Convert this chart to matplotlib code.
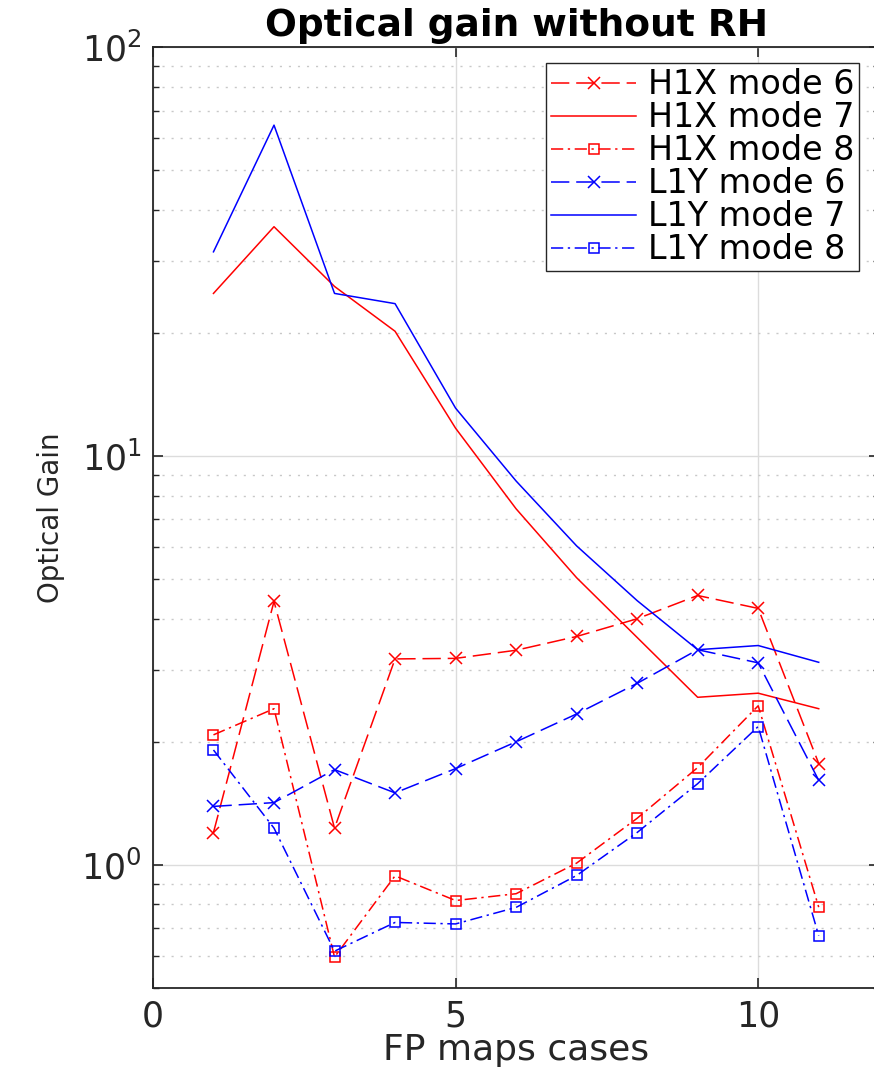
import matplotlib.pyplot as plt
from matplotlib.ticker import LogLocator, NullFormatter

plt.rcParams['font.family'] = ['DejaVu Sans']
plt.rcParams['mathtext.fontset'] = 'dejavusans'

cases: list = [1, 2, 3, 4, 5, 6, 7, 8, 9, 10, 11]

h1x_mode6: list = [1.20, 4.41, 1.23, 3.19, 3.20, 3.35, 3.62, 4.00, 4.56, 4.24, 1.77]
h1x_mode7: list = [25.0, 36.4, 26.0, 20.2, 11.7, 7.43, 5.04, 3.60, 2.57, 2.63, 2.41]
h1x_mode8: list = [2.08, 2.41, 0.595, 0.94, 0.818, 0.85, 1.01, 1.30, 1.73, 2.45, 0.788]
l1y_mode6: list = [1.39, 1.42, 1.71, 1.50, 1.72, 2.00, 2.34, 2.78, 3.36, 3.12, 1.61]
l1y_mode7: list = [31.6, 64.5, 25.0, 23.6, 13.1, 8.69, 6.03, 4.43, 3.36, 3.44, 3.13]
l1y_mode8: list = [1.91, 1.23, 0.615, 0.723, 0.717, 0.787, 0.942, 1.20, 1.58, 2.18, 0.671]

labels: list = ["H1X mode 6", "H1X mode 7", "H1X mode 8",
                "L1Y mode 6", "L1Y mode 7", "L1Y mode 8"]

dash_pat = (12, 4.5)
dashdot_pat = (8, 3, 1.5, 3)


def plotGraph() -> None:
    fig = plt.figure(figsize=(8.74, 10.75), dpi=100)
    ax = fig.add_axes([0.175, 0.081, 0.831, 0.875])

    lw = 1.1
    # H1X in red, L1Y in blue
    ax.plot(cases, h1x_mode6, color="red", lw=lw, marker="x", ms=9, mew=1.1,
            dashes=dash_pat, label=labels[0])
    ax.plot(cases, h1x_mode7, color="red", lw=lw, ls="-", label=labels[1])
    ax.plot(cases, h1x_mode8, color="red", lw=lw, marker="s", ms=7.5, mew=1.1,
            mfc="none", dashes=dashdot_pat, label=labels[2])
    ax.plot(cases, l1y_mode6, color="blue", lw=lw, marker="x", ms=9, mew=1.1,
            dashes=dash_pat, label=labels[3])
    ax.plot(cases, l1y_mode7, color="blue", lw=lw, ls="-", label=labels[4])
    ax.plot(cases, l1y_mode8, color="blue", lw=lw, marker="s", ms=7.5, mew=1.1,
            mfc="none", dashes=dashdot_pat, label=labels[5])

    ax.set_yscale("log")
    ax.set_xlim(0, 12)
    ax.set_ylim(0.5, 100)
    ax.set_xticks([0, 5, 10])
    ax.yaxis.set_major_locator(LogLocator(base=10, numticks=10))
    ax.yaxis.set_minor_locator(LogLocator(base=10, subs=range(2, 10), numticks=20))
    ax.yaxis.set_minor_formatter(NullFormatter())

    ax.grid(True, which="major", color="#dcdcdc", lw=1.0, ls="-")
    ax.grid(True, which="minor", axis="y", color="#c8c8c8", lw=1.0, ls=(0, (1.5, 5)))
    ax.set_axisbelow(True)

    for s in ax.spines.values():
        s.set_color("#262626")
        s.set_linewidth(1.3)
    ax.tick_params(which="both", direction="in", top=True, right=True,
                   colors="#262626", labelsize=25, pad=8)
    ax.tick_params(which="major", length=7, width=1.2)
    ax.tick_params(which="minor", length=4, width=1.0)

    ax.set_title("Optical gain without RH", fontsize=27, fontweight="bold", pad=8)
    ax.set_xlabel("FP maps cases", fontsize=26, color="#262626", labelpad=0)
    ax.set_ylabel("Optical Gain", fontsize=20, color="#262626", labelpad=12)

    leg = ax.legend(loc="upper right", bbox_to_anchor=(0.9725, 0.983),
                    borderaxespad=0, fontsize=24, fancybox=False, framealpha=1,
                    edgecolor="#262626", labelspacing=0.0, handlelength=2.55,
                    handletextpad=0.35, borderpad=0.15)
    leg.get_frame().set_linewidth(1.0)

    fig.savefig("out.png", dpi=100)


plotGraph()
